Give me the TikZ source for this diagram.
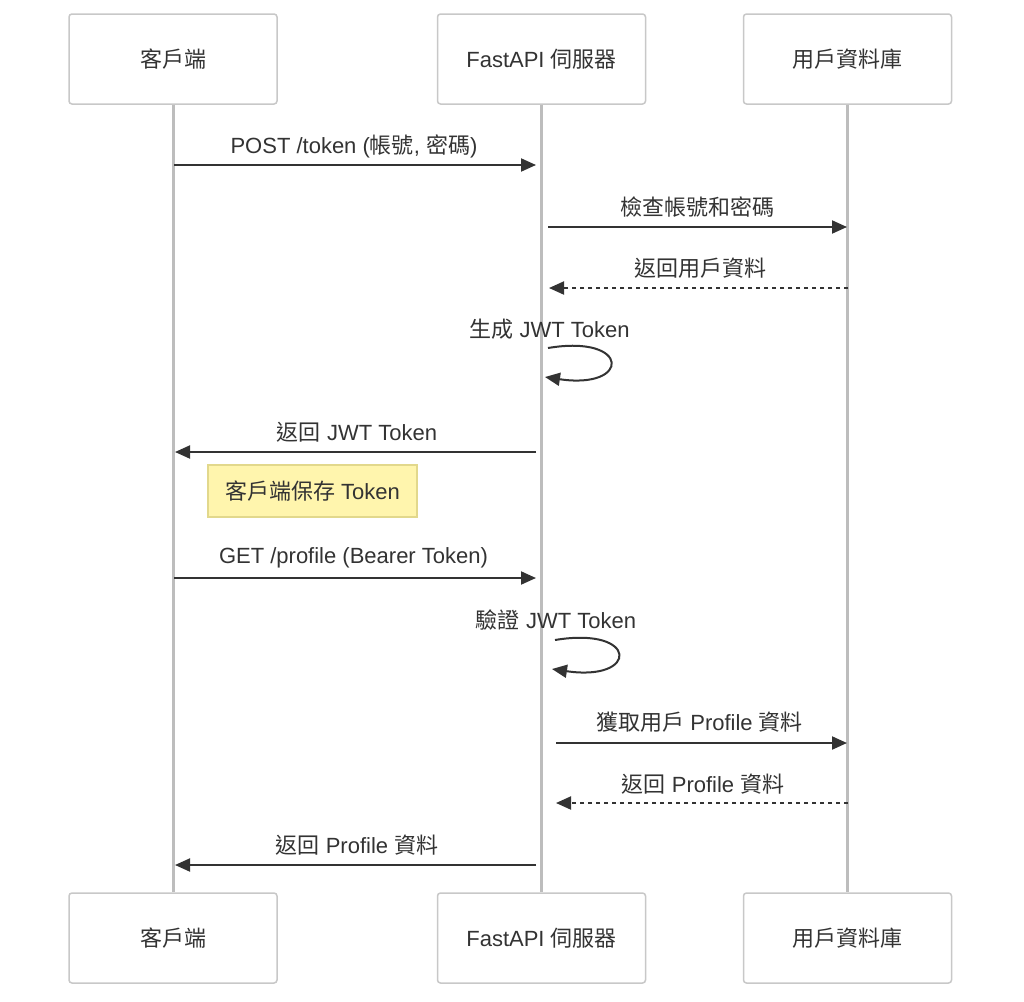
\documentclass[tikz,border=0pt]{standalone}
\usepackage{fontspec}
\setmainfont{Liberation Sans}
\newfontfamily\cjk{Noto Sans CJK TC}
\newcommand{\C}[1]{{\cjk #1}}
\usetikzlibrary{arrows.meta}
\definecolor{txt}{HTML}{333333}
\definecolor{boxline}{HTML}{C8C8C8}
\definecolor{lifeline}{HTML}{BDBDBD}
\definecolor{notefill}{HTML}{FFF5AD}
\definecolor{noteline}{HTML}{E2D88C}
\begin{document}
\begin{tikzpicture}[x=1pt,y=-1pt,
  every node/.style={font=\fontsize{22}{26}\selectfont, text=txt},
  actor/.style={draw=boxline, line width=1.5pt, fill=white, rounded corners=3pt,
    minimum width=208pt, minimum height=90pt, inner sep=0pt},
  life/.style={draw=lifeline, line width=3pt},
  msg/.style={draw=txt, line width=2pt, -{Triangle[length=15pt,width=13pt]}},
  reply/.style={msg, dash pattern=on 4pt off 4pt},
  lbl/.style={inner sep=0pt},
  notebox/.style={draw=noteline, line width=1.5pt, fill=notefill,
    minimum width=209pt, minimum height=52pt, inner sep=0pt}]
\useasboundingbox (0,0) rectangle (1024,1001);
\fill[white] (0,0) rectangle (1024,1001);

% actors
\node[actor] (c1) at (173,59) {\C{客戶端}};
\node[actor] (s1) at (541.5,59) {FastAPI \C{伺服器}};
\node[actor] (d1) at (847.5,59) {\C{用戶資料庫}};
\node[actor] (c2) at (173,938) {\C{客戶端}};
\node[actor] (s2) at (541.5,938) {FastAPI \C{伺服器}};
\node[actor] (d2) at (847.5,938) {\C{用戶資料庫}};

% lifelines
\draw[life] (c1.south) -- (c2.north);
\draw[life] (s1.south) -- (s2.north);
\draw[life] (d1.south) -- (d2.north);

% message end points
\coordinate (a1) at (174,165);   \coordinate (b1) at (536,165);
\coordinate (a2) at (548,227);   \coordinate (b2) at (847,227);
\coordinate (a3) at (848,288);   \coordinate (b3) at (549,288);
\coordinate (l1s) at (548,348);  \coordinate (l1e) at (545,377);
\coordinate (a5) at (536,452);   \coordinate (b5) at (175,452);
\coordinate (a7) at (174,578);   \coordinate (b7) at (536,578);
\coordinate (l2s) at (555,640);  \coordinate (l2e) at (552,669);
\coordinate (a9) at (556,743);   \coordinate (b9) at (847,743);
\coordinate (a10) at (848,803);  \coordinate (b10) at (556,803);
\coordinate (a11) at (536,865);  \coordinate (b11) at (175,865);

% messages
\draw[msg] (a1) -- (b1);
\node[lbl] (t1) at (354,146) {POST /token (\C{帳號}, \C{密碼})};

\draw[msg] (a2) -- (b2);
\node[lbl] (t2) at (697,207) {\C{檢查帳號和密碼}};

\draw[reply] (a3) -- (b3);
\node[lbl] (t3) at (700,268) {\C{返回用戶資料}};

\node[lbl] (t4) at (549.5,329) {\C{生成} JWT Token};
\draw[msg] (l1s) .. controls (631,334) and (631,390) .. (l1e);

\draw[msg] (a5) -- (b5);
\node[lbl] (t5) at (357,432) {\C{返回} JWT Token};

\node[notebox] (n1) at (312.5,491) {\C{客戶端保存} Token};

\draw[msg] (a7) -- (b7);
\node[lbl] (t7) at (353.5,558) {GET /profile (Bearer Token)};

\node[lbl] (t8) at (556,620) {\C{驗證} JWT Token};
\draw[msg] (l2s) .. controls (639,626) and (639,682) .. (l2e);

\draw[msg] (a9) -- (b9);
\node[lbl] (t9) at (699.5,722) {\C{獲取用戶} Profile \C{資料}};

\draw[reply] (a10) -- (b10);
\node[lbl] (t10) at (703,784) {\C{返回} Profile \C{資料}};

\draw[msg] (a11) -- (b11);
\node[lbl] (t11) at (357,845) {\C{返回} Profile \C{資料}};
\end{tikzpicture}
\end{document}
